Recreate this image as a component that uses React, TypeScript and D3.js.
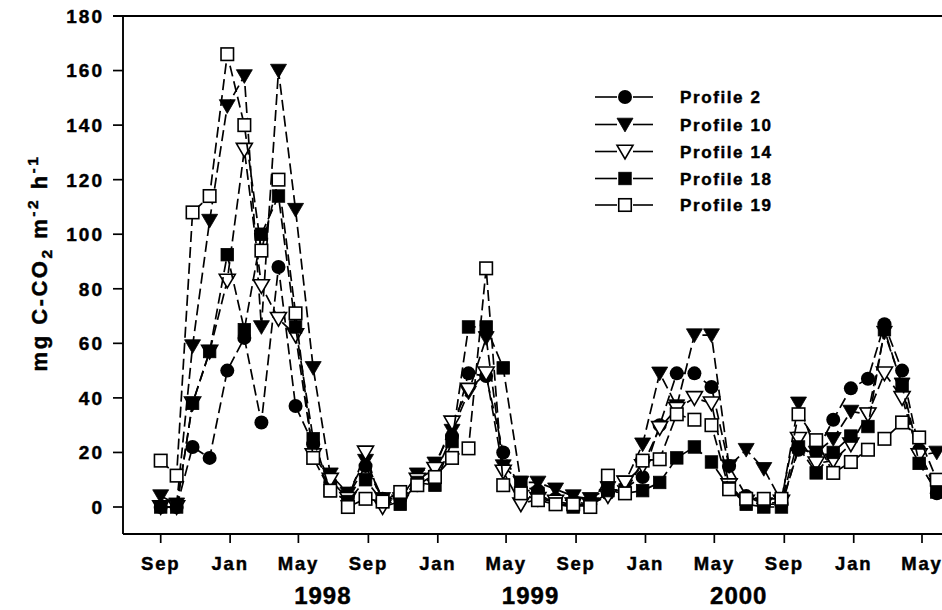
import React from "react";
import * as d3 from "d3";

// Sampling dates (approx. monthly)
const dates = [
  "1997-09-01", "1997-09-29", "1997-10-27", "1997-11-26", "1997-12-27",
  "1998-01-26", "1998-02-25", "1998-03-27", "1998-04-26", "1998-05-27",
  "1998-06-26", "1998-07-27", "1998-08-27", "1998-09-26", "1998-10-27",
  "1998-11-26", "1998-12-27", "1999-01-26", "1999-02-24", "1999-03-27",
  "1999-04-26", "1999-05-27", "1999-06-26", "1999-07-27", "1999-08-27",
  "1999-09-26", "1999-10-27", "1999-11-26", "1999-12-27", "2000-01-26",
  "2000-02-25", "2000-03-27", "2000-04-26", "2000-05-27", "2000-06-26",
  "2000-07-27", "2000-08-27", "2000-09-26", "2000-10-27", "2000-11-26",
  "2000-12-27", "2001-01-26", "2001-02-24", "2001-03-27", "2001-04-26",
  "2001-05-27",
];

const profile2 = [
  0, 0, 22, 18, 50, 62, 31, 88, 37, 23,
  9, 4, 15, 3, 3, 8, 12, 26, 49, 48,
  20, 6, 6, 3, 2, 1, 5, 7, 11, 30,
  49, 49, 44, 15, 4, 1, 1, 21, 20, 32,
  43.5, 47, 67, 50, 21, 5,
];
const profile10 = [
  4, 1, 59, 105, 147, 158, 66, 160, 109, 51,
  12, 5, 17, 3, 3, 12, 16, 28, 42, 62,
  15, 9, 9, 6.5, 4, 3, 7, 9, 23, 49,
  37, 63, 63, 15, 21, 14, 2, 38, 20, 25,
  35, 34, 64, 45, 19, 20,
];
const profile14 = [
  0, 0, 38, 57, 83, 131, 81, 69, 63, 19,
  10, 3, 20, 0, 2, 10, 14, 31, 43, 49,
  13, 1, 3, 2, 1, 1, 4, 9, 15, 29,
  36, 40, 38, 8, 2, 1, 2, 25, 16, 17,
  23, 34, 49, 40, 19, 8,
];
const profile18 = [
  0, 0, 38, 57, 92.5, 65, 100, 114, 66, 25,
  6, 2, 10, 2, 1, 9, 8, 24, 66, 66,
  51, 9, 5, 1, 0, 1, 6, 5, 6, 9,
  18, 22, 16.5, 7, 1, 0, 0, 22, 12.5, 20,
  26, 29.5, 65, 44.5, 16, 5.5,
];
const profile19 = [
  17, 11.5, 108, 114, 166, 140, 94, 120, 71, 18,
  6, 0, 3, 2, 5.5, 8, 11, 18, 21.5, 87.5,
  8, 5, 2.5, 1, 1, 0, 11.5, 5, 17, 17.5,
  34, 32, 30, 6.5, 3, 3, 3, 34, 24.5, 12.5,
  16.5, 21, 25, 31, 25.5, 10,
];

const seriesNames = ["Profile 2", "Profile 10", "Profile 14", "Profile 18", "Profile 19"];
const seriesSymbols = ["circle", "triDownFilled", "triDownOpen", "squareFilled", "squareOpen"];
const seriesValues = [profile2, profile10, profile14, profile18, profile19];

const yearLabels = ["1998", "1999", "2000"];

const W = 942;
const H = 610;
const FONT = "'Liberation Sans', Arial, Helvetica, sans-serif";

const parse = d3.utcParse("%Y-%m-%d");

function Marker({ kind, x, y }: { kind: string; x: number; y: number }) {
  const sw = 1.6;
  if (kind === "circle") return <circle cx={x} cy={y} r={7} fill="#000" />;
  if (kind === "triDownFilled" || kind === "triDownOpen") {
    const p = `M${x - 8},${y - 6.3}L${x + 8},${y - 6.3}L${x},${y + 7.4}Z`;
    return kind === "triDownFilled" ? (
      <path d={p} fill="#000" stroke="#000" strokeWidth={0.8} />
    ) : (
      <path d={p} fill="#fff" stroke="#000" strokeWidth={sw} strokeLinejoin="miter" />
    );
  }
  const s = 12.5;
  return kind === "squareFilled" ? (
    <rect x={x - s / 2} y={y - s / 2} width={s} height={s} fill="#000" stroke="#000" strokeWidth={0.8} />
  ) : (
    <rect x={x - s / 2} y={y - s / 2} width={s} height={s} fill="#fff" stroke="#000" strokeWidth={sw} />
  );
}

export default function App() {
  const x = d3
    .scaleUtc()
    .domain([parse("1997-09-01")!, parse("2001-05-01")!])
    .range([160.7, 922]);
  const y = d3.scaleLinear().domain([0, 180]).range([507, 16]);

  const left = 123;
  const right = 960;
  const top = 16;
  const bottom = 534;

  const xTicks = d3.utcMonth.range(parse("1997-09-01")!, parse("2001-06-01")!, 4);
  const fmt = d3.utcFormat("%b");
  const yTicks = y.ticks(10);

  const pts = dates.map((d) => parse(d)!);

  const line = d3
    .line<number>()
    .x((_, i) => x(pts[i]))
    .y((v) => y(v));

  const legendY = [97, 124.5, 151.5, 178.5, 205];
  const textStroke = { stroke: "#000", strokeWidth: 0.45 };

  return (
    <svg
      width={W}
      height={H}
      style={{ position: "absolute", left: 0, top: 0, background: "#fff" }}
      fontFamily={FONT}
      fontWeight="bold"
    >
      <rect x={0} y={0} width={W} height={H} fill="#fff" />

      {/* series */}
      {seriesValues.map((vals, si) => (
        <g key={si}>
          <path
            d={line(vals) || ""}
            fill="none"
            stroke="#000"
            strokeWidth={1.7}
            strokeDasharray="11,5"
          />
          {vals.map((v, i) => (
            <Marker key={i} kind={seriesSymbols[si]} x={x(pts[i])} y={y(v)} />
          ))}
        </g>
      ))}

      {/* frame */}
      <line x1={113} x2={right} y1={top} y2={top} stroke="#000" strokeWidth={1.9} />
      <line x1={left} x2={left} y1={top} y2={bottom} stroke="#000" strokeWidth={1.9} />
      <line x1={left} x2={right} y1={bottom} y2={bottom} stroke="#000" strokeWidth={1.9} />

      {/* y ticks */}
      {yTicks.map((t) => (
        <g key={t}>
          <line x1={113} x2={left} y1={y(t)} y2={y(t)} stroke="#000" strokeWidth={1.7} />
          <text
            x={104}
            y={y(t)}
            dy="0.36em"
            textAnchor="end"
            fontSize={19}
            letterSpacing={2}
            {...textStroke}
          >
            {t}
          </text>
        </g>
      ))}

      {/* x ticks */}
      {xTicks.map((t, i) => (
        <g key={i}>
          <line x1={x(t)} x2={x(t)} y1={bottom} y2={bottom + 9} stroke="#000" strokeWidth={1.7} />
          <text
            x={x(t)}
            y={570}
            textAnchor="middle"
            fontSize={18.5}
            letterSpacing={1.8}
            {...textStroke}
          >
            {fmt(t)}
          </text>
        </g>
      ))}

      {/* year labels */}
      {yearLabels.map((yr) => (
        <text
          key={yr}
          x={x(parse(`${yr}-06-13`)!)}
          y={604}
          textAnchor="middle"
          fontSize={24}
          letterSpacing={1}
          {...textStroke}
        >
          {yr}
        </text>
      ))}

      {/* y axis title */}
      <text
        transform="translate(47,263) rotate(-90)"
        textAnchor="middle"
        fontSize={22}
        letterSpacing={2.5}
        {...textStroke}
      >
        mg C-CO
        <tspan fontSize={15.5} dy={5}>2</tspan>
        <tspan dy={-5}> m</tspan>
        <tspan fontSize={15.5} dy={-9}>-2</tspan>
        <tspan dy={9}> h</tspan>
        <tspan fontSize={15.5} dy={-9}>-1</tspan>
      </text>

      {/* legend */}
      {seriesNames.map((name, i) => (
        <g key={name}>
          <line x1={595} x2={617} y1={legendY[i]} y2={legendY[i]} stroke="#000" strokeWidth={1.6} />
          <line x1={633} x2={653} y1={legendY[i]} y2={legendY[i]} stroke="#000" strokeWidth={1.6} />
          <Marker kind={seriesSymbols[i]} x={625} y={legendY[i]} />
          <text x={680} y={legendY[i]} dy="0.36em" fontSize={17} letterSpacing={1.6} {...textStroke}>
            {name}
          </text>
        </g>
      ))}
    </svg>
  );
}
